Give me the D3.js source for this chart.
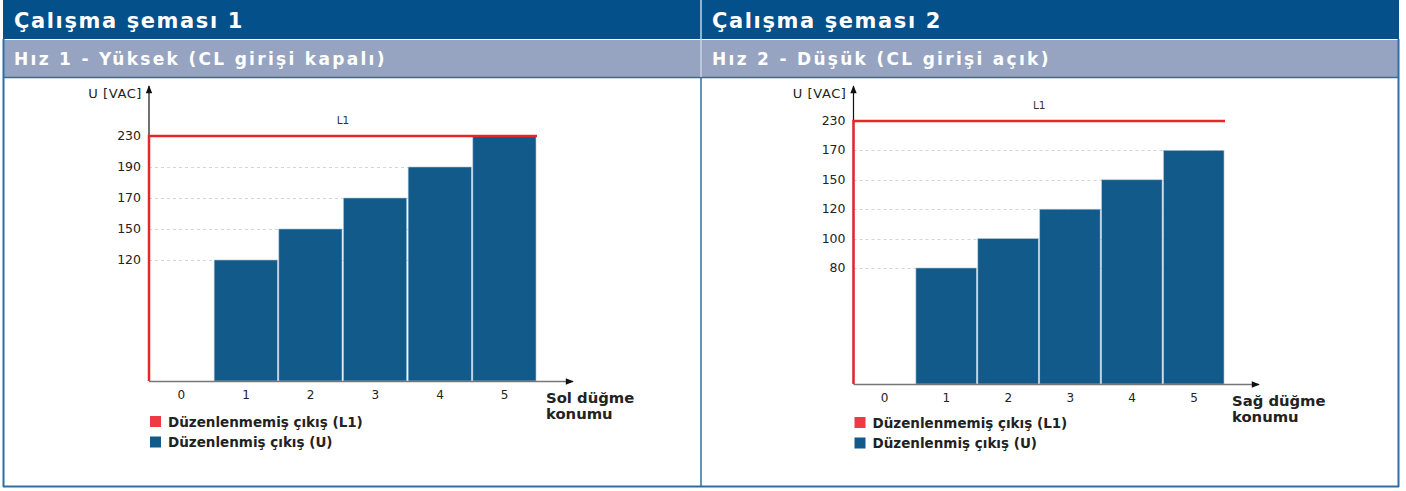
<!DOCTYPE html>
<html>
<head>
<meta charset="utf-8">
<script src="https://cdn.jsdelivr.net/npm/d3@7"></script>
<style>
  body { margin: 0; background: #fff; }
  svg { display: block; font-family: "DejaVu Sans", Verdana, sans-serif; }
</style>
</head>
<body>
<svg width="1406" height="491"></svg>
<script>
// categories = switch positions
var positions = [0, 1, 2, 3, 4, 5];

// panel 1: speed 1 high
var leftTitle = "Çalışma şeması 1";
var leftSubtitle = "Hız 1 - Yüksek (CL girişi kapalı)";
var leftValues = [null, 120, 150, 170, 190, 230];
var leftTicks = [120, 150, 170, 190, 230];
var leftAxisLabel = ["Sol düğme", "konumu"];

// panel 2: speed 2 low
var rightTitle = "Çalışma şeması 2";
var rightSubtitle = "Hız 2 - Düşük (CL girişi açık)";
var rightValues = [null, 80, 100, 120, 150, 170];
var rightTicks = [80, 100, 120, 150, 170, 230];
var rightAxisLabel = ["Sağ düğme", "konumu"];

var l1Value = 230;
var legendLabels = ["Düzenlenmemiş çıkış (L1)", "Düzenlenmiş çıkış (U)"];

var width = 1406, height = 491;
var svg = d3.select("svg");

var darkBlue = "#03508a";
var greyBlue = "#97a4c1";
var barBlue = "#115a89";
var red = "#e8252b";
var border = "#2f6ea5";

svg.append("defs").append("marker")
    .attr("id", "arrow")
    .attr("viewBox", "0 0 10 10")
    .attr("refX", 9).attr("refY", 5)
    .attr("markerWidth", 10).attr("markerHeight", 8)
    .attr("markerUnits", "userSpaceOnUse")
    .attr("orient", "auto")
    .append("path")
    .attr("d", "M0,1 L10,5 L0,9 Z")
    .attr("fill", "#111");

///////////////////// HEADERS ////////////////////
svg.append("rect").attr("x", 0).attr("y", 0).attr("width", width).attr("height", 39).attr("fill", darkBlue);
svg.append("rect").attr("x", 4).attr("y", 40).attr("width", 1394).attr("height", 37).attr("fill", greyBlue);
svg.append("line").attr("x1", 4).attr("x2", 1398).attr("y1", 77.5).attr("y2", 77.5).attr("stroke", border).attr("stroke-width", 1.5);
// frame
svg.append("line").attr("x1", 3.5).attr("x2", 3.5).attr("y1", 39).attr("y2", 487).attr("stroke", border).attr("stroke-width", 2);
svg.append("line").attr("x1", 1398.5).attr("x2", 1398.5).attr("y1", 39).attr("y2", 487).attr("stroke", border).attr("stroke-width", 2);
svg.append("line").attr("x1", 3).attr("x2", 1399).attr("y1", 486.5).attr("y2", 486.5).attr("stroke", border).attr("stroke-width", 2);
svg.append("rect").attr("x", 0).attr("y", 0).attr("width", 3).attr("height", 39).attr("fill", "#fff");
svg.append("rect").attr("x", 1399).attr("y", 0).attr("width", 7).attr("height", 39).attr("fill", "#fff");
// divider
svg.append("line").attr("x1", 701).attr("x2", 701).attr("y1", 0).attr("y2", 77).attr("stroke", "#c9d3e3").attr("stroke-width", 1.5);
svg.append("line").attr("x1", 701).attr("x2", 701).attr("y1", 77).attr("y2", 487).attr("stroke", border).attr("stroke-width", 1.5);

// DejaVu is narrower than the original Verdana, so letters get spaced out a bit
function header(x, title, subtitle) {
    svg.append("text").attr("x", x).attr("y", 28)
        .attr("fill", "#fff").style("font-weight", "bold").style("font-size", "21px")
        .style("letter-spacing", "1.6px")
        .text(title);
    svg.append("text").attr("x", x).attr("y", 65)
        .attr("fill", "#fff").style("font-weight", "bold").style("font-size", "17px")
        .style("letter-spacing", "2.3px")
        .text(subtitle);
}
header(14, leftTitle, leftSubtitle);
header(712, rightTitle, rightSubtitle);

///////////////////// CHARTS ////////////////////
function chart(cfg) {
    var g = svg.append("g");

    var xScale = d3.scaleBand().domain(positions).range([cfg.x0, cfg.x1]).padding(0);

    // y axis is not linear: ticks are equally spaced above a tall first step
    var n = cfg.ticks.length;
    var yScale = d3.scaleLinear()
        .domain([0].concat(cfg.ticks))
        .range([cfg.base].concat(cfg.ticks.map(function (d, i) { return cfg.top + cfg.step * (n - 1 - i); })));

    // grid
    g.selectAll(".grid").data(cfg.ticks.filter(function (d) { return d !== l1Value; }))
        .enter().append("line")
        .attr("x1", cfg.x0).attr("x2", cfg.x1)
        .attr("y1", function (d) { return Math.round(yScale(d)) + 0.5; })
        .attr("y2", function (d) { return Math.round(yScale(d)) + 0.5; })
        .attr("stroke", "#d4d4d4").attr("stroke-dasharray", "3,3");

    // bars
    g.selectAll(".bar").data(positions.filter(function (p, i) { return cfg.values[i] != null; }))
        .enter().append("rect")
        .attr("x", function (p) { return xScale(p) + 0.5; })
        .attr("width", xScale.bandwidth() - 1.5)
        .attr("y", function (p) { return yScale(cfg.values[p]); })
        .attr("height", function (p) { return cfg.base - yScale(cfg.values[p]); })
        .attr("fill", barBlue)
        .attr("stroke", "#a9c2d8").attr("stroke-width", 0.6);

    // y axis
    g.append("line")
        .attr("x1", cfg.x0).attr("x2", cfg.x0)
        .attr("y1", cfg.base).attr("y2", cfg.arrowTop)
        .attr("stroke", "#111").attr("stroke-width", 1.2)
        .attr("marker-end", "url(#arrow)");

    // L1 line
    var y230 = yScale(l1Value);
    g.append("path")
        .attr("d", "M" + cfg.x0 + "," + cfg.base + "V" + y230 + "H" + cfg.x1)
        .attr("fill", "none").attr("stroke", red).attr("stroke-width", 2.5);

    g.append("text")
        .attr("x", xScale(3)).attr("y", y230 - 12)
        .attr("text-anchor", "middle")
        .style("font-size", "10.5px").attr("fill", "#333")
        .text("L1");

    // x axis
    g.append("line")
        .attr("x1", cfg.x0).attr("x2", cfg.arrowRight)
        .attr("y1", cfg.base + 0.5).attr("y2", cfg.base + 0.5)
        .attr("stroke", "#777").attr("stroke-width", 1.5)
        .attr("marker-end", "url(#arrow)");

    g.selectAll(".xtick").data(positions)
        .enter().append("text")
        .attr("x", function (p) { return xScale(p) + xScale.bandwidth() / 2; })
        .attr("y", cfg.base + 18)
        .attr("text-anchor", "middle")
        .style("font-size", "12px").attr("fill", "#222")
        .text(function (p) { return p; });

    g.selectAll(".ytick").data(cfg.ticks)
        .enter().append("text")
        .attr("x", cfg.x0 - 8)
        .attr("y", function (d) { return yScale(d) + 4; })
        .attr("text-anchor", "end")
        .style("font-size", "12.5px").attr("fill", "#222")
        .text(function (d) { return d; });

    g.append("text")
        .attr("x", cfg.x0 - 7).attr("y", cfg.arrowTop + 12)
        .attr("text-anchor", "end")
        .style("font-size", "13px").style("letter-spacing", "0.6px").attr("fill", "#222")
        .text("U [VAC]");

    g.selectAll(".xlabel").data(cfg.axisLabel)
        .enter().append("text")
        .attr("x", cfg.arrowRight - 27)
        .attr("y", function (d, i) { return cfg.base + 22 + i * 16; })
        .style("font-size", "14.8px").style("font-weight", "bold").attr("fill", "#222")
        .text(function (d) { return d; });

    // legend
    var colors = ["#ee3a42", barBlue];
    var leg = g.selectAll(".legend").data(legendLabels)
        .enter().append("g")
        .attr("transform", function (d, i) { return "translate(" + (cfg.x0 + 1) + "," + (cfg.legendTop + i * 20.5) + ")"; });
    leg.append("rect").attr("width", 11).attr("height", 11).attr("fill", function (d, i) { return colors[i]; });
    leg.append("text").attr("x", 18).attr("y", 10.5)
        .style("font-size", "13.5px").style("font-weight", "bold").attr("fill", "#222")
        .text(function (d) { return d; });
}

chart({ x0: 149, x1: 537, base: 381, top: 136, step: 31, ticks: leftTicks, values: leftValues,
        arrowTop: 86, arrowRight: 573, axisLabel: leftAxisLabel, legendTop: 416 });
chart({ x0: 853.5, x1: 1225, base: 384, top: 121, step: 29.4, ticks: rightTicks, values: rightValues,
        arrowTop: 86, arrowRight: 1259, axisLabel: rightAxisLabel, legendTop: 417 });
</script>
</body>
</html>
